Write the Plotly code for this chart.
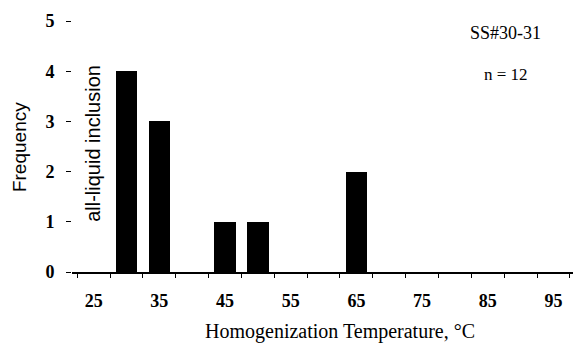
import plotly.graph_objects as go

# Data
bin_centers = [30, 35, 45, 50, 65]
counts = [4, 3, 1, 1, 2]
x_tick_vals = [25, 35, 45, 55, 65, 75, 85, 95]
x_tick_text = ["25", "35", "45", "55", "65", "75", "85", "95"]
y_tick_vals = [0, 1, 2, 3, 4, 5]
sample_label = "SS#30-31"
n_label = "n = 12"

serif = "Liberation Serif"
sans = "Liberation Sans"

fig = go.Figure()
fig.add_trace(go.Bar(
    x=bin_centers, y=counts, width=3.3,
    marker=dict(color="black", line=dict(width=0)),
    showlegend=False,
))

# page body has an 8px default margin, so the figure is 8px smaller
fig.update_layout(
    width=573, height=337,
    margin=dict(l=64, r=0, t=13, b=73, autoexpand=False),
    paper_bgcolor="white", plot_bgcolor="white",
    xaxis=dict(
        range=[21.7, 99.2],
        tickvals=x_tick_vals, ticktext=x_tick_text,
        ticks="", showgrid=False, zeroline=False,
        showline=True, linecolor="black", linewidth=1.5,
        tickfont=dict(family=serif, size=18, color="black", weight="bold"),
        ticklabelstandoff=12,
        minor=dict(tick0=27.5, dtick=5, ticks="outside", ticklen=4,
                   tickcolor="black", tickwidth=1, showgrid=False),
    ),
    yaxis=dict(
        range=[0, 5],
        tickvals=y_tick_vals,
        ticks="outside", ticklen=5, tickcolor="black", tickwidth=1,
        showgrid=False, zeroline=False, showline=False,
        tickfont=dict(family=serif, size=18, color="black", weight="bold"),
        ticklabelstandoff=8,
    ),
    bargap=0,
)

def note(text, x, y, family, size, angle=0):
    fig.add_annotation(text=text, xref="paper", yref="paper", x=x, y=y,
                       xanchor="center", yanchor="middle", showarrow=False,
                       textangle=angle,
                       font=dict(family=family, size=size, color="black"))

note(sample_label, 0.851, 0.952, serif, 18)
note(n_label, 0.853, 0.785, serif, 17)
note("Frequency", -0.104, 0.498, sans, 19, -90)
note("all-liquid inclusion", 0.041, 0.514, sans, 20, -90)
note("Homogenization Temperature, °C", 0.527, -0.239, serif, 20)

fig.write_html("out.html")
